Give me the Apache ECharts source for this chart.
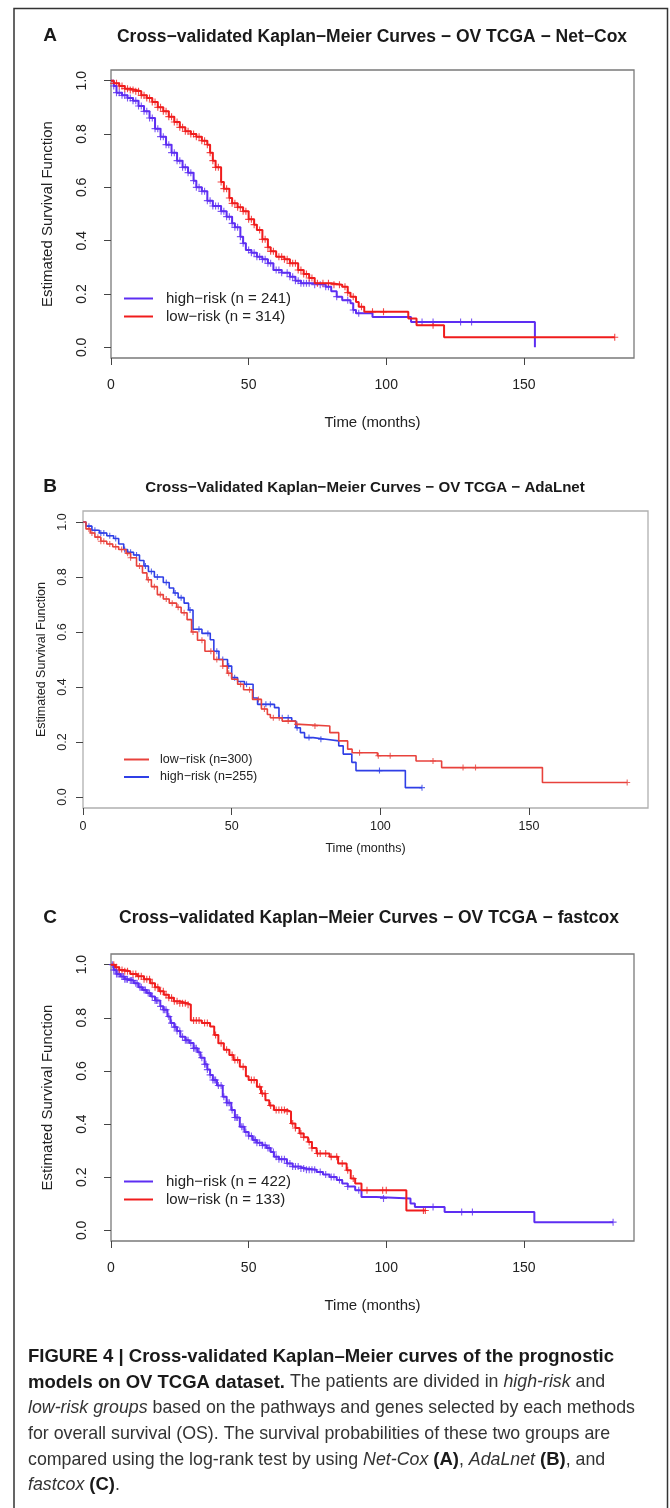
<!DOCTYPE html>
<html>
<head>
<meta charset="utf-8">
<title>Cross-validated Kaplan-Meier curves - OV TCGA</title>
<script src="https://cdn.jsdelivr.net/npm/echarts@6/dist/echarts.min.js"></script>
<style>
  html, body { margin: 0; padding: 0; background: #fff; }
  #chart { width: 670px; height: 1508px; }
</style>
</head>
<body>
<div id="chart"></div>
<script>
// ---- data: [time (months), survival] after each step ----
const xTicks = [0, 50, 100, 150];
const yTicks = [0, 0.2, 0.4, 0.6, 0.8, 1.0];

// A - Net-Cox
const aHigh = [[0,1],[1,0.98],[2,0.955],[4,0.945],[6,0.935],[8,0.925],[10,0.905],[12,0.885],[14,0.86],[16,0.82],[18,0.79],[20,0.76],[22,0.73],[24,0.7],[26,0.675],[28,0.655],[30,0.625],[31,0.6],[33,0.585],[35,0.55],[37,0.53],[40,0.51],[42,0.49],[44,0.465],[45,0.45],[47,0.415],[48,0.39],[49,0.365],[51,0.355],[53,0.34],[55,0.33],[57,0.315],[59,0.29],[62,0.28],[65,0.265],[67,0.25],[69,0.24],[74,0.235],[78,0.227],[80,0.21],[82,0.19],[84,0.177],[87,0.165],[88,0.14],[89,0.128],[95,0.114],[109,0.095],[154,0]];
const aLow = [[0,1],[1,0.99],[3,0.98],[5,0.97],[7,0.965],[9,0.96],[11,0.945],[13,0.935],[15,0.92],[17,0.9],[19,0.885],[21,0.865],[23,0.845],[25,0.825],[27,0.81],[29,0.8],[31,0.79],[33,0.775],[35,0.76],[36,0.73],[37,0.7],[38,0.675],[40,0.62],[41,0.595],[43,0.56],[44,0.54],[46,0.525],[48,0.51],[50,0.48],[52,0.46],[53,0.44],[55,0.405],[57,0.375],[58,0.36],[60,0.34],[63,0.33],[65,0.315],[68,0.29],[70,0.275],[72,0.26],[74,0.24],[80,0.235],[84,0.227],[86,0.205],[87,0.19],[89,0.17],[90,0.152],[92,0.133],[108,0.108],[111,0.083],[121,0.038],[183,0.038]];
const aHighCens = [1,2,3,4,5,6,7,8,9,10,11,12,13,14,15,16,17,18,19,20,21,22,23,24,25,26,27,28,29,30,31,32,33,34,35,36,37,38,39,40,41,42,43,44,45,46,47,48,50,51,52,53,54,55,56,57,58,60,61,62,64,65,66,67,68,69,70,71,72,74,76,78,79,82,86,88,90,113,117,127,131];
const aLowCens = [1,2,3,4,5,6,7,8,9,10,11,12,13,14,15,16,17,18,19,20,21,22,23,24,25,26,27,28,29,30,31,32,33,34,35,36,37,38,39,40,41,42,43,44,45,46,47,48,49,50,51,52,54,55,56,57,58,59,61,62,63,64,65,66,67,68,69,70,71,72,73,75,77,79,81,83,85,86,88,91,95,99,117,183];

// B - AdaLnet
const bLow = [[0,1],[1,0.975],[2.5,0.96],[4,0.945],[6,0.93],[8,0.92],[10,0.91],[12,0.9],[14.5,0.886],[16,0.87],[18,0.84],[20,0.815],[21.5,0.79],[23,0.765],[25,0.736],[27,0.72],[29,0.705],[31.5,0.69],[33,0.67],[35,0.645],[36.5,0.6],[38.5,0.57],[41,0.53],[44,0.5],[47,0.476],[48.5,0.45],[50,0.428],[52,0.41],[54,0.39],[57,0.355],[60,0.32],[62,0.3],[63,0.288],[67,0.276],[71.5,0.264],[73,0.258],[83,0.234],[86,0.204],[89,0.174],[90.5,0.161],[99,0.15],[112,0.131],[120.6,0.107],[154.5,0.053],[183,0.053]];
const bHigh = [[0,1],[1,0.985],[3,0.97],[5.5,0.96],[8,0.95],[10.3,0.94],[12,0.92],[13.7,0.9],[15,0.89],[17,0.88],[19,0.86],[20.5,0.84],[22,0.82],[24,0.8],[27,0.78],[29,0.76],[30.5,0.742],[32,0.725],[34,0.705],[35.5,0.68],[37,0.61],[40,0.595],[42.8,0.572],[44,0.53],[45.7,0.5],[48.6,0.476],[50,0.434],[52,0.42],[54.3,0.41],[57.2,0.36],[58.7,0.337],[64.4,0.325],[65.9,0.288],[70.2,0.276],[71.6,0.252],[73.1,0.234],[74.5,0.216],[77.4,0.21],[81.7,0.204],[86,0.186],[87.5,0.156],[90.4,0.126],[91.8,0.096],[108.4,0.034],[114,0.034]];
const bLowCens = [2,3,5,6,7,9,11,13,15,16,19,22,24,26,28,30,32,34,37,40,43,45,47,49,53,56,59,61,64,66,69,72,78,93,99.3,103.3,117.7,127.8,132,183];
const bHighCens = [2,4,6,7,9,11,14,16,18,21,23,25,28,31,33,36,39,42,45,47,49,51,55,60,61.5,63,67,69,72,76,80,99.7,114];

// C - fastcox
const cHigh = [[0,1],[1,0.98],[2,0.965],[3.5,0.955],[5,0.945],[6.5,0.94],[8.3,0.93],[10,0.915],[11.5,0.905],[13,0.893],[14.5,0.88],[16,0.865],[17.9,0.843],[19,0.83],[20.5,0.805],[21.6,0.78],[23,0.765],[24,0.75],[25.2,0.729],[27,0.715],[28.5,0.705],[30,0.685],[31.5,0.67],[32.5,0.65],[34,0.625],[35,0.605],[36,0.585],[37,0.566],[38.5,0.545],[40.6,0.503],[42,0.48],[43.7,0.453],[45,0.425],[46.8,0.39],[48.5,0.37],[50,0.355],[51.5,0.34],[53,0.33],[55,0.32],[56.5,0.31],[58,0.295],[59.2,0.277],[61,0.268],[63.9,0.252],[66,0.24],[68.5,0.233],[71,0.228],[74.7,0.22],[77,0.21],[79.4,0.201],[82,0.19],[84,0.176],[86,0.165],[88.7,0.151],[91,0.126],[96.4,0.12],[108.8,0.101],[110.4,0.088],[121.2,0.069],[153.8,0.031],[182.4,0.031]];
const cLow = [[0,1],[1.5,0.99],[3,0.98],[4.7,0.975],[7,0.965],[9.5,0.956],[12,0.945],[14.3,0.93],[16,0.915],[17.5,0.9],[19.2,0.887],[21,0.875],[22.8,0.862],[25,0.855],[27.6,0.849],[29,0.79],[33,0.78],[36,0.767],[37.5,0.735],[39,0.704],[41,0.68],[43,0.66],[44.5,0.641],[46.8,0.616],[49,0.58],[50,0.566],[53,0.54],[54.5,0.515],[56.1,0.49],[57.5,0.47],[59.2,0.453],[63.9,0.447],[65.4,0.402],[67,0.385],[68.5,0.365],[70,0.35],[71.6,0.333],[73,0.31],[74.7,0.289],[79.4,0.277],[82.5,0.252],[85.6,0.226],[87.1,0.195],[88.7,0.176],[91,0.151],[107.3,0.075],[114.2,0.075]];
const cHighCens = [0.5,1,1.5,2,2.5,3,4,4.5,5,5.5,6,7,7.5,8,9,9.5,10.5,11,12,12.5,13.5,14,15,16,16.5,17,18,19,19.5,20,21,22,23,23.5,24,25,26,27,27.5,28,29,30,30.5,31,32,33,34,34.5,35,36,37,37.5,38,39,40,41,42,42.5,43,44,45,45.5,46,47.5,48,49,50,51,52,52.5,53,54,55,56,57,57.5,59,60,61,62,63,64,65,66,67,68,69,70,71,72,73,74,76,78,80,81,83,86,90,99,117,127.4,131.3,182.4];
const cLowCens = [1,2,3,4,5,6,8,9,10,11,12,13,14,15,16,17,18,19,20,21,22,23,24,25,26,27,28,30,31,32,34,35,38,40,42,44,45,46,48,51,52,54,55,56,58,60,61,62,63,64,66,67,69,70,72,73,75,76,78,80,82,84,86,88,93,98.7,100,113.5,114.2];

const FONT = "'Liberation Sans', Arial, Helvetica, sans-serif";
const PURPLE = '#5d2ef2';
const RED = '#f01c1c';
const B_RED = '#e8423c';
const B_BLUE = '#2f3fe6';
const PLUS = 'path://M5,0V10M0,5H10';

// survival value at a censoring time (last step at or before it)
function survAt(curve, t) {
  let s = 1;
  for (const p of curve) {
    if (p[0] <= t) s = p[1];
    else break;
  }
  return s;
}

const chart = echarts.init(document.getElementById('chart'), null, { renderer: 'canvas' });

const panels = [
  { grid: { left: 111, top: 70, width: 523, height: 288, border: '#7a7a7a' },
    fs: 14, nameFs: 15, yNameGap: 56, yLabMargin: 22, xLabMargin: 20, xNameGap: 57, lw: 2, plus: 7,
    curves: [
      { name: 'high−risk (n = 241)', data: aHigh, cens: aHighCens, color: PURPLE },
      { name: 'low−risk (n = 314)', data: aLow, cens: aLowCens, color: RED }
    ],
    legend: { left: 124, top: 291, fs: 15, w: 29, gap: 3, pad: 8 } },
  { grid: { left: 83, top: 511, width: 565, height: 297, border: '#b0b0b0' },
    fs: 12.5, nameFs: 12.5, yNameGap: 34, yLabMargin: 14, xLabMargin: 12, xNameGap: 34, lw: 1.6, plus: 6,
    curves: [
      { name: 'high−risk (n=255)', data: bHigh, cens: bHighCens, color: B_BLUE },
      { name: 'low−risk (n=300)', data: bLow, cens: bLowCens, color: B_RED }
    ],
    legendOrder: ['low−risk (n=300)', 'high−risk (n=255)'],
    legend: { left: 124, top: 753, fs: 12.5, w: 25, gap: 4.5, pad: 6 } },
  { grid: { left: 111, top: 954, width: 523, height: 287, border: '#7a7a7a' },
    fs: 14, nameFs: 15, yNameGap: 56, yLabMargin: 22, xLabMargin: 20, xNameGap: 57, lw: 2, plus: 7,
    curves: [
      { name: 'high−risk (n = 422)', data: cHigh, cens: cHighCens, color: PURPLE },
      { name: 'low−risk (n = 133)', data: cLow, cens: cLowCens, color: RED }
    ],
    legend: { left: 124, top: 1174, fs: 15, w: 29, gap: 3, pad: 8 } }
];

const grid = [], xAxis = [], yAxis = [], series = [], legend = [];

panels.forEach(function (p, i) {
  grid.push({
    left: p.grid.left, top: p.grid.top, width: p.grid.width, height: p.grid.height,
    show: true, borderColor: p.grid.border, borderWidth: 1.3, backgroundColor: 'transparent'
  });
  xAxis.push({
    gridIndex: i, type: 'value', min: 0, max: 190,
    name: 'Time (months)', nameLocation: 'middle', nameGap: p.xNameGap,
    nameTextStyle: { fontFamily: FONT, fontSize: p.nameFs, color: '#222' },
    axisLine: { show: false, onZero: false },
    axisTick: { show: true, inside: false, length: 7, customValues: xTicks, lineStyle: { color: '#444' } },
    axisLabel: { customValues: xTicks, margin: p.xLabMargin, fontFamily: FONT, fontSize: p.fs, color: '#222' },
    splitLine: { show: false }
  });
  yAxis.push({
    gridIndex: i, type: 'value', min: -0.04, max: 1.04,
    name: 'Estimated Survival Function', nameLocation: 'middle', nameGap: p.yNameGap,
    nameTextStyle: { fontFamily: FONT, fontSize: p.nameFs, color: '#222' },
    axisLine: { show: false, onZero: false },
    axisTick: { show: true, inside: false, length: 7, customValues: yTicks, lineStyle: { color: '#444' } },
    axisLabel: {
      customValues: yTicks, rotate: 90, margin: p.yLabMargin,
      fontFamily: FONT, fontSize: p.fs, color: '#222',
      formatter: function (v) { return v.toFixed(1); }
    },
    splitLine: { show: false }
  });
  p.curves.forEach(function (c) {
    series.push({
      name: c.name, type: 'line', step: 'end',
      xAxisIndex: i, yAxisIndex: i,
      data: c.data, showSymbol: false, silent: true,
      itemStyle: { color: c.color },
      lineStyle: { color: c.color, width: p.lw }
    });
    series.push({
      name: c.name + ' censored', type: 'scatter',
      xAxisIndex: i, yAxisIndex: i,
      data: c.cens.map(function (t) { return [t, survAt(c.data, t)]; }),
      symbol: PLUS, symbolSize: p.plus, silent: true,
      itemStyle: { color: 'transparent', borderColor: c.color, borderWidth: 1.1 }
    });
  });
  legend.push({
    data: p.legendOrder || p.curves.map(function (c) { return c.name; }),
    orient: 'vertical', left: p.legend.left, top: p.legend.top,
    icon: 'rect', itemWidth: p.legend.w, itemHeight: 2, itemGap: p.legend.gap,
    padding: 0, selectedMode: false,
    textStyle: { fontFamily: FONT, fontSize: p.legend.fs, color: '#222', padding: [0, 0, 0, p.legend.pad] }
  });
});

function label(x, y, text, size, align) {
  return {
    type: 'text', x: x, y: y, silent: true,
    style: {
      text: text, fill: '#1a1a1a', font: 'bold ' + size + 'px ' + FONT,
      textAlign: align || 'center', textVerticalAlign: 'middle'
    }
  };
}

const captionLines = [
  '{b|FIGURE 4 | Cross-validated Kaplan–Meier curves of the prognostic}',
  '{b|models on OV TCGA dataset.}{r| The patients are divided in }{i|high-risk}{r| and}',
  '{i|low-risk groups}{r| based on the pathways and genes selected by each methods}',
  '{r|for overall survival (OS). The survival probabilities of these two groups are}',
  '{r|compared using the log-rank test by using }{i|Net-Cox}{r| }{b|(A)}{r|, }{i|AdaLnet}{r| }{b|(B)}{r|, and}',
  '{i|fastcox}{r| }{b|(C)}{r|.}'
];

const capFs = 17.8, capBoldFs = 18.5, capLh = 25.7;

chart.setOption({
  backgroundColor: '#fff',
  animation: false,
  grid: grid, xAxis: xAxis, yAxis: yAxis, series: series, legend: legend,
  graphic: [
    {
      type: 'polyline', silent: true,
      shape: { points: [[14, 1510], [14, 8.5], [667.5, 8.5], [667.5, 1510]] },
      style: { stroke: '#333', lineWidth: 1.5, fill: null }
    },
    label(50, 36, 'A', 19),
    label(372, 37, 'Cross−validated Kaplan−Meier Curves − OV TCGA − Net−Cox', 17.5),
    label(50, 487, 'B', 19),
    label(365, 488, 'Cross−Validated Kaplan−Meier Curves − OV TCGA − AdaLnet', 15.1),
    label(50, 918, 'C', 19),
    label(369, 918, 'Cross−validated Kaplan−Meier Curves − OV TCGA − fastcox', 17.5),
    {
      type: 'text', x: 28, y: 1344, silent: true,
      style: {
        text: captionLines.join('\n'),
        fill: '#222', font: capFs + 'px ' + FONT, lineHeight: capLh,
        rich: {
          b: { fontFamily: FONT, fontSize: capBoldFs, fontWeight: 'bold', fill: '#1a1a1a', lineHeight: capLh },
          i: { fontFamily: FONT, fontSize: capFs, fontStyle: 'italic', fill: '#333', lineHeight: capLh },
          r: { fontFamily: FONT, fontSize: capFs, fill: '#333', lineHeight: capLh }
        }
      }
    }
  ]
});
</script>
</body>
</html>
